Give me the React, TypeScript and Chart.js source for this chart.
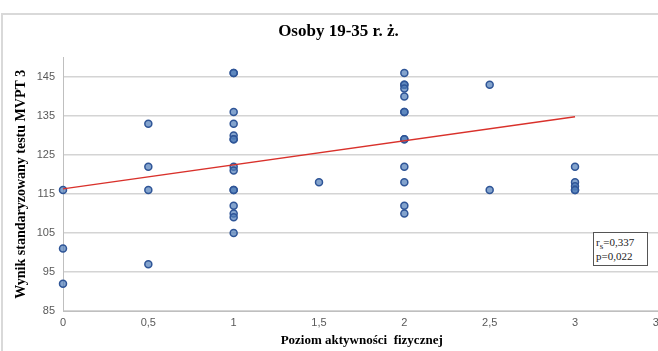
import React, { useEffect, useRef } from "react";
import { Chart, registerables } from "chart.js";

Chart.register(...registerables);

const CHART_TITLE = "Osoby 19-35 r. ż.";
const X_TITLE = "Poziom aktywności  fizycznej";
const Y_TITLE = "Wynik standaryzowany testu MVPT 3";

const ACTIVITY_LEVEL = [
  0, 0, 0,
  0.5, 0.5, 0.5, 0.5,
  1, 1, 1, 1, 1, 1, 1, 1, 1, 1, 1, 1, 1, 1, 1,
  1.5,
  2, 2, 2, 2, 2, 2, 2, 2, 2, 2, 2, 2, 2,
  2.5, 2.5,
  3, 3, 3, 3, 3,
];
const MVPT_SCORE = [
  116, 101, 92,
  133, 122, 116, 97,
  146, 146, 136, 133, 130, 129, 129, 122, 121, 116, 112, 110, 109, 105, 116,
  118,
  146, 143, 143, 142, 140, 136, 136, 129, 122, 118, 112, 110, 129,
  143, 116,
  122, 118, 117, 116, 116,
];

const TREND_X = [0, 3];
const TREND_Y = [116.3, 134.8];

const Y_TICKS = [85, 95, 105, 115, 125, 135, 145];
const X_MIN = 0;
const X_MAX = 3.5;
const X_STEP = 0.5;
const Y_MIN = 85;
const Y_MAX = 150;

const RS_TEXT = "0,337";
const P_TEXT = "0,022";

export default function App() {
  const ref = useRef<HTMLCanvasElement | null>(null);

  useEffect(() => {
    if (!ref.current) return;
    const points = ACTIVITY_LEVEL.map((x, i) => ({ x, y: MVPT_SCORE[i] }));
    const trend = TREND_X.map((x, i) => ({ x, y: TREND_Y[i] }));
    const chart = new Chart(ref.current, {
      type: "scatter",
      data: {
        datasets: [
          {
            type: "line",
            data: trend,
            borderColor: "#d9312b",
            borderWidth: 1.5,
            pointRadius: 0,
            fill: false,
            order: 0,
            clip: false,
          },
          {
            data: points,
            backgroundColor: "rgba(78,124,184,0.7)",
            borderColor: "#2f5597",
            borderWidth: 1.5,
            pointRadius: 3.5,
            order: 1,
            clip: false,
          },
        ],
      },
      options: {
        responsive: false,
        animation: false,
        layout: { padding: { left: 4, right: 0, top: 0, bottom: 0 } },
        plugins: {
          legend: { display: false },
          tooltip: { enabled: false },
          title: {
            display: true,
            text: CHART_TITLE,
            color: "#000",
            font: { family: "Liberation Serif", size: 17, weight: "bold" },
            padding: { top: 21, bottom: 16 },
          },
        },
        scales: {
          x: {
            type: "linear",
            min: X_MIN,
            max: X_MAX,
            grid: { display: false, drawTicks: false },
            border: { display: true, color: "#bfbfbf", width: 1 },
            ticks: {
              stepSize: X_STEP,
              padding: 5,
              color: "#595959",
              font: { family: "Liberation Sans", size: 11 },
              callback: (v: any) => String(v).replace(".", ","),
            },
            title: {
              display: true,
              text: X_TITLE,
              color: "#000",
              font: { family: "Liberation Serif", size: 13, weight: "bold" },
              padding: { top: 0, bottom: 3 },
            },
            afterFit: (s: any) => {
              s.height = 40;
            },
          },
          y: {
            type: "linear",
            min: Y_MIN,
            max: Y_MAX,
            grid: { color: "#d4d4d4", lineWidth: 1.5, drawTicks: false },
            border: { display: true, color: "#bfbfbf", width: 1 },
            afterBuildTicks: (s: any) => {
              s.ticks = Y_TICKS.map((v) => ({ value: v }));
            },
            ticks: {
              padding: 8,
              color: "#595959",
              font: { family: "Liberation Sans", size: 11 },
            },
            title: {
              display: true,
              text: Y_TITLE,
              color: "#000",
              font: { family: "Liberation Serif", size: 14, weight: "bold" },
              padding: { top: 9, bottom: 0 },
            },
            afterFit: (s: any) => {
              s.width = 59;
            },
          },
        },
      },
    });
    return () => chart.destroy();
  }, []);

  return (
    <div
      style={{
        position: "fixed",
        left: 0,
        top: 0,
        width: 658,
        height: 351,
        overflow: "hidden",
        background: "#fff",
      }}
    >
      <canvas ref={ref} width={673} height={351} style={{ position: "absolute", left: 0, top: 0 }} />
      <div
        style={{
          position: "absolute",
          left: 1,
          top: 13,
          width: 700,
          height: 400,
          borderLeft: "2px solid #d9d9d9",
          borderTop: "2px solid #d9d9d9",
          pointerEvents: "none",
        }}
      />
      <div
        style={{
          position: "absolute",
          left: 593,
          top: 232,
          width: 55,
          height: 34,
          border: "1px solid #555",
          background: "#fff",
          fontFamily: "Liberation Serif",
          fontSize: 11,
          lineHeight: "14px",
          color: "#222",
          paddingLeft: 2,
          paddingTop: 2,
          boxSizing: "border-box",
        }}
      >
        <div>
          r<sub style={{ fontSize: 9, lineHeight: 0 }}>s</sub>={RS_TEXT}
        </div>
        <div>p={P_TEXT}</div>
      </div>
    </div>
  );
}
